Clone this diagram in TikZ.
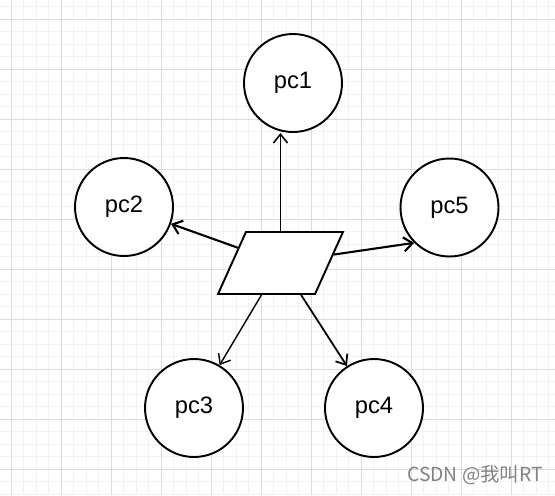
\documentclass[tikz,border=0pt]{standalone}
\usepackage{fontspec}
\setmainfont{Liberation Sans}
\newfontfamily\cjkfont{Noto Sans CJK SC}
\usetikzlibrary{shapes.geometric,arrows.meta}
\definecolor{gridmajor}{RGB}{220,220,220}
\definecolor{gridminor}{RGB}{242,242,242}
\definecolor{markgray}{RGB}{130,130,130}

\begin{document}
\begin{tikzpicture}[x=0.02cm, y=-0.02cm,
	pc/.style={draw, circle, line width=1.1pt, minimum size=1.96cm, inner sep=0pt, fill=white, font=\fontsize{13.5}{15}\selectfont},
	link/.style={->, >={Straight Barb[length=5pt,width=8pt]}, line width=0.8pt}]
	\useasboundingbox (0,0) rectangle (555,495);
	\fill[white] (0,0) rectangle (555,495);
	
	% grid
	\foreach \gx in {-1.2,11.3,...,555} \draw[gridminor, line width=0.5pt] (\gx,0) -- (\gx,495);
	\foreach \gy in {6.8,19.3,...,495} \draw[gridminor, line width=0.5pt] (0,\gy) -- (555,\gy);
	\foreach \gx in {11.3,61.3,...,555} \draw[gridmajor, line width=0.6pt] (\gx,0) -- (\gx,495);
	\foreach \gy in {19.3,69.3,...,495} \draw[gridmajor, line width=0.6pt] (0,\gy) -- (555,\gy);
	
	% switch and pcs
	\node[draw, trapezium, trapezium left angle=68, trapezium right angle=112, trapezium stretches=true, minimum width=2.5cm, minimum height=1.24cm, inner sep=2pt, line width=1.1pt, fill=white] (sw) at (280.5,263) {};
	\node[pc] (pc1) at (293,83) {pc1};
	\node[pc] (pc2) at (124,207) {pc2};
	\node[pc] (pc5) at (449.5,207.5) {pc5};
	\node[pc] (pc3) at (194,408) {pc3};
	\node[pc] (pc4) at (374,408) {pc4};
	
	\draw [link, line width=0.9pt] (sw.north) -- (sw.north |- pc1.south);
	\draw [link, line width=1.2pt] (sw) -- (pc2);
	\draw [link, line width=1.2pt] (sw.9) -- (pc5.225);
	\draw [link] (sw) -- (pc3);
	\draw [link, line width=1pt] (sw) -- (pc4);
	
	\node[text=markgray, font=\cjkfont\fontsize{11}{12}\selectfont, anchor=west, inner sep=0pt] (mark) at (407,475) {CSDN @我叫RT};
\end{tikzpicture}
\end{document}
